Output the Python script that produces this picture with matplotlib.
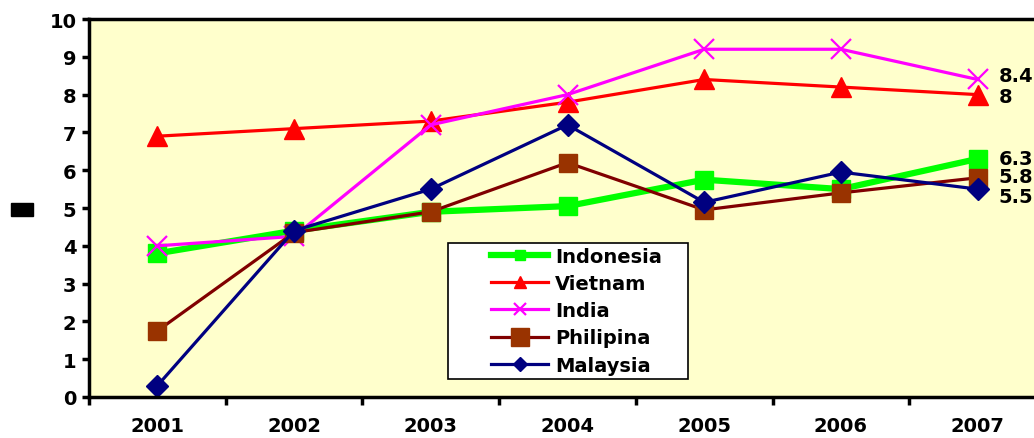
import numpy as np
import matplotlib
matplotlib.use("Agg")
import matplotlib.pyplot as plt
from matplotlib.patches import Rectangle

years = ["2001", "2002", "2003", "2004", "2005", "2006", "2007"]
indonesia = [3.8, 4.4, 4.9, 5.05, 5.75, 5.5, 6.3]
vietnam = [6.9, 7.1, 7.3, 7.8, 8.4, 8.2, 8.0]
india = [4.0, 4.25, 7.2, 8.0, 9.2, 9.2, 8.4]
philipina = [1.75, 4.35, 4.9, 6.2, 4.95, 5.4, 5.8]
malaysia = [0.3, 4.4, 5.5, 7.2, 5.15, 5.95, 5.5]

plt.rcParams['font.family'] = 'DejaVu Sans'
plt.rcParams['font.weight'] = 'bold'

fig = plt.figure(figsize=(10.34, 4.39), dpi=100)
ax = fig.add_axes([0.0861, 0.0934, 0.9255, 0.861])
ax.set_facecolor("#FFFFCC")

x = np.arange(len(years))
ax.plot(x, indonesia, color="#00FF00", lw=4.5, marker="s", ms=13,
        mfc="#00FF00", mec="#00FF00", label="Indonesia")
ax.plot(x, vietnam, color="#FF0000", lw=2.3, marker="^", ms=14,
        mfc="#FF0000", mec="#FF0000", label="Vietnam")
ax.plot(x, india, color="#FF00FF", lw=2.3, marker="x", ms=14, mew=1.6,
        mec="#FF00FF", label="India")
ax.plot(x, philipina, color="#800000", lw=2.3, marker="s", ms=13,
        mfc="#993300", mec="#993300", label="Philipina")
ax.plot(x, malaysia, color="#000080", lw=2.3, marker="D", ms=11,
        mfc="#000080", mec="#000080", label="Malaysia")

# value labels at 2007
end_labels = [("8.4", india[-1], 3), ("8", vietnam[-1], -1), ("6.3", indonesia[-1], 0),
              ("5.8", philipina[-1], 1), ("5.5", malaysia[-1], -5)]
for txt, val, dy in end_labels:
    ax.annotate(txt, (x[-1], val), xytext=(15, dy), textcoords="offset points",
                ha="left", va="center", fontsize=14, fontweight="bold")

ax.set_xlim(-0.5, 6.5)
ax.set_ylim(0, 10)
ax.set_yticks(np.arange(0, 11, 1))
ax.set_xticks(x)
ax.set_xticklabels(years)
ax.set_xticks(np.arange(-0.5, 7, 1), minor=True)
ax.tick_params(axis="x", which="major", length=0, pad=14, labelsize=14)
ax.tick_params(axis="x", which="minor", length=6, width=2.5, direction="out")
ax.tick_params(axis="y", length=5, width=2.5, direction="out", labelsize=14, pad=4)
for lab in ax.get_xticklabels() + ax.get_yticklabels():
    lab.set_fontweight("bold")

for side in ["left", "bottom", "top", "right"]:
    ax.spines[side].set_linewidth(2.5)
    ax.spines[side].set_color("black")

# legend box (wide padding like the original)
ax.add_patch(Rectangle((0.375, 0.0476), 0.251, 0.360, transform=ax.transAxes,
                       facecolor="white", edgecolor="black", lw=1.2, zorder=4))
leg = ax.legend(loc="upper left", bbox_to_anchor=(0.42, 0.397), borderaxespad=0,
                frameon=False, fontsize=14, borderpad=0,
                handlelength=2.94, labelspacing=0.42, handletextpad=0.36)
leg.set_zorder(5)
for t in leg.get_texts():
    t.set_fontweight("bold")
for h, s in zip(leg.legend_handles, [7, 8, 8, 13, 7]):
    h.set_markersize(s)

# y axis title glyph (rendered as a box in the source)
fig.patches.append(Rectangle((11 / 1034, 1 - 217 / 439), 22 / 1034, 13 / 439,
                             transform=fig.transFigure, color="black"))

fig.savefig("out.png", dpi=100)
